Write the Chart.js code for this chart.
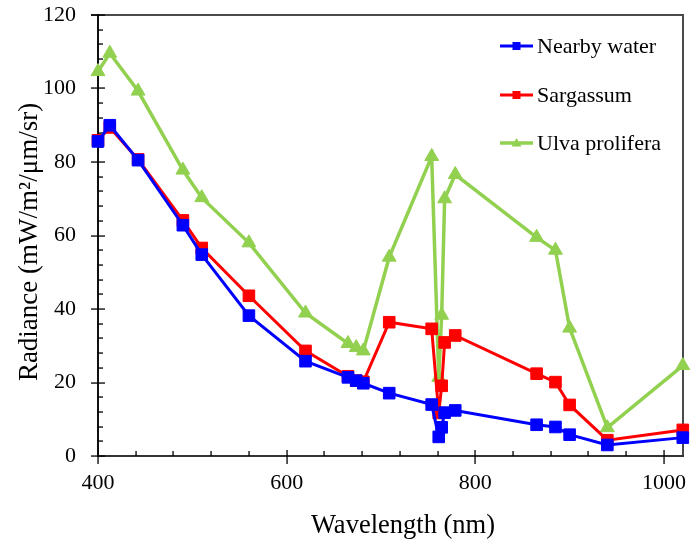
<!DOCTYPE html>
<html><head><meta charset="utf-8">
<script src="https://cdn.jsdelivr.net/npm/chart.js@4.4.1/dist/chart.umd.min.js"></script>
<style>html,body{margin:0;padding:0;background:#fff}#wrap{width:692px;height:543px;position:relative}</style>
</head><body><div id="wrap"><canvas id="c"></canvas></div>
<script>
const wavelengths = [400,412.5,442.5,490,510,560,620,665,673.75,681.25,708.75,753.75,761.25,764.375,767.5,778.75,865,885,900,940,1020];
const nearbyWater = [85.6,90,80.5,62.8,54.8,38.2,25.8,21.4,20.5,19.8,17.1,14,5.2,7.8,11.8,12.4,8.5,7.9,5.8,3,5];
const sargassum   = [85.9,89.4,80.7,64.1,56.6,43.6,28.6,21.7,20.5,20.2,36.4,34.6,11.7,19.1,30.9,32.8,22.4,20.1,13.9,4.3,7.1];
const ulva        = [104.6,109.6,99.3,77.8,70.3,58,38.9,30.6,29.5,28.6,54.1,81.5,21.4,38.3,70,76.6,59.5,56,34.8,7.7,24.6];
const seriesNames = ['Nearby water','Sargassum','Ulva prolifera'];
const xTicks = [400,600,800,1000];
const yTicks = [0,20,40,60,80,100,120];
const xTitle = 'Wavelength (nm)';
const yTitle = 'Radiance (mW/m²/μm/sr)';
const xMinorStep = 40, yMinorStep = 4;

const FONT = "'Liberation Serif', 'Times New Roman', serif";
const mk = (arr) => wavelengths.map((w,i)=>({x:w,y:arr[i]}));
const styles = [
  {color:'#0000FF', style:'rect', r:8.2, lw:3},
  {color:'#FF0000', style:'rect', r:8.2, lw:3},
  {color:'#92D050', style:'triangle', r:8, lw:3.5}
];
const seriesData = [nearbyWater, sargassum, ulva];

const frame = {
  id:'frame',
  beforeDatasetsDraw(chart){
    const {ctx, chartArea:a, scales:{x,y}} = chart;
    const L = Math.round(a.left), R = Math.round(a.right), T = Math.round(a.top), B = Math.round(a.bottom);
    ctx.save();
    ctx.fillStyle = '#4a4a4a';
    ctx.fillRect(L - 7, T - 1, R - L + 8, 2);      // top
    ctx.fillRect(R - 1, T - 1, 2, B - T + 2);      // right
    ctx.fillStyle = '#111';
    ctx.fillRect(L - 1, T - 1, 2, B - T + 2);      // left
    ctx.fillStyle = '#333';
    ctx.fillRect(L - 1, B - 1, R - L + 2, 2);      // bottom
    ctx.fillStyle = '#000';
    for (let v = x.min; v <= x.max + 1e-6; v += xMinorStep) {
      const px = Math.round(x.getPixelForValue(v));
      const major = xTicks.includes(v);
      if (major) ctx.fillRect(px - 0.6, B - 6, 1.3, 14);
      else ctx.fillRect(px - 0.6, B - 5, 1.3, 5);
    }
    for (let v = y.min; v <= y.max + 1e-6; v += yMinorStep) {
      const py = Math.round(y.getPixelForValue(v));
      const major = yTicks.includes(v);
      if (major) ctx.fillRect(L - 7, py - 0.6, 14, 1.3);
      else ctx.fillRect(L, py - 0.6, 5, 1.3);
    }
    ctx.restore();
  },
  afterDraw(chart){
    const {ctx} = chart;
    ctx.save();
    ctx.fillStyle = '#000';
    ctx.textAlign = 'center';
    ctx.textBaseline = 'alphabetic';
    ctx.font = "26.5px " + FONT;
    ctx.fillText(xTitle, 403, 533);
    ctx.save();
    ctx.translate(37, 242);
    ctx.rotate(-Math.PI/2);
    ctx.font = "27px " + FONT;
    ctx.fillText(yTitle, 0, 0);
    ctx.restore();
    const x0 = 500, x1 = 533, tx = 537, ys = [46, 95, 143];
    ctx.font = "22px " + FONT;
    ctx.textAlign = 'left';
    ctx.textBaseline = 'middle';
    seriesNames.forEach((name,i)=>{
      const s = styles[i], yy = ys[i];
      ctx.strokeStyle = s.color; ctx.fillStyle = s.color; ctx.lineWidth = s.lw;
      ctx.beginPath(); ctx.moveTo(x0, yy); ctx.lineTo(x1, yy); ctx.stroke();
      const cx = (x0+x1)/2;
      ctx.beginPath();
      if (s.style === 'rect') { ctx.rect(cx-4, yy-4, 8, 8); }
      else { ctx.moveTo(cx, yy-5); ctx.lineTo(cx+5, yy+3.5); ctx.lineTo(cx-5, yy+3.5); ctx.closePath(); }
      ctx.fill();
      ctx.fillStyle = '#000';
      ctx.fillText(name, tx, yy+1);
    });
    ctx.restore();
  }
};

new Chart(document.getElementById('c'), {
  type:'line',
  data:{
    datasets: seriesData.map((arr,i)=>({
      label: seriesNames[i],
      data: mk(arr),
      borderColor: styles[i].color,
      backgroundColor: styles[i].color,
      pointBackgroundColor: styles[i].color,
      pointBorderColor: styles[i].color,
      pointBorderWidth: 1,
      pointStyle: styles[i].style,
      pointRadius: styles[i].r,
      pointHoverRadius: styles[i].r,
      borderWidth: styles[i].lw,
      tension: 0,
      clip: false,
      fill: false
    }))
  },
  options:{
    responsive:true, maintainAspectRatio:false, animation:false,
    layout:{padding:{top:15,right:7,left:0,bottom:0}},
    plugins:{legend:{display:false}, tooltip:{enabled:false}},
    scales:{
      x:{
        type:'linear', min:400, max:1020,
        afterBuildTicks(s){ s.ticks = xTicks.map(v=>({value:v})); },
        afterFit(s){ s.height = 87; s.paddingLeft = 0; s.paddingRight = 0; s.paddingTop = 0; s.paddingBottom = 0; },
        grid:{display:false, drawTicks:false, tickLength:0},
        border:{display:false},
        ticks:{font:{family:FONT, size:22}, color:'#000', padding:14, maxRotation:0, callback:(v)=>String(v)},
        title:{display:false}
      },
      y:{
        min:0, max:120,
        afterBuildTicks(s){ s.ticks = yTicks.map(v=>({value:v})); },
        afterFit(s){ s.width = 98; s.paddingLeft = 0; s.paddingRight = 0; s.paddingTop = 0; s.paddingBottom = 0; },
        grid:{display:false, drawTicks:false, tickLength:0},
        border:{display:false},
        ticks:{font:{family:FONT, size:22}, color:'#000', padding:22, callback:(v)=>String(v)},
        title:{display:false}
      }
    }
  },
  plugins:[frame]
});
</script></body></html>
